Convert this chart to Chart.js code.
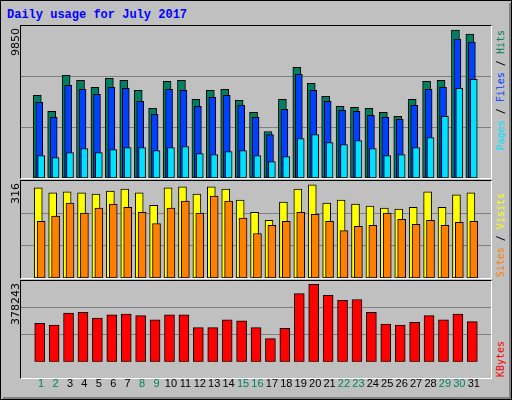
<!DOCTYPE html>
<html><head><meta charset="utf-8">
<script src="https://cdn.jsdelivr.net/npm/chart.js@4"></script>
<style>
body{margin:0;background:#fff}
#wrap{position:absolute;left:0;top:0;width:510px;height:398px;background:#C0C0C0;border:1px solid #000;overflow:hidden}
#wrap:after{content:"";position:absolute;right:0;bottom:0;left:2px;top:2px;border-right:2px solid #808080;border-bottom:2px solid #808080;pointer-events:none}
.box{position:absolute;border-top:1px solid #000;border-left:1px solid #000;border-right:1px solid #fff;border-bottom:1px solid #fff}
.cv{position:absolute}
.title{position:absolute;left:6px;top:7px;font:bold 12px "Liberation Mono",monospace;color:#0000FF}
.vt{position:absolute;writing-mode:vertical-rl;transform:rotate(180deg);font:10px "DejaVu Sans Mono",monospace;white-space:nowrap}
.yl{position:absolute;writing-mode:vertical-rl;transform:rotate(180deg);font:11px "DejaVu Sans",sans-serif;color:#000}
</style></head><body>
<div id="wrap">
<div class="title">Daily usage for July 2017</div>
<div class="box" style="left:19px;top:24px;width:470px;height:152px"></div>
<div class="box" style="left:19px;top:179px;width:470px;height:97px"></div>
<div class="box" style="left:19px;top:279px;width:470px;height:97px"></div>
<div class="cv" style="left:20px;top:25px;width:470px;height:152px"><canvas id="c1"></canvas></div>
<div class="cv" style="left:20px;top:180px;width:470px;height:97px"><canvas id="c2"></canvas></div>
<div class="cv" style="left:20px;top:280px;width:470px;height:118px"><canvas id="c3"></canvas></div>
<div class="yl" style="left:8px;top:27px">9850</div>
<div class="yl" style="left:8px;top:182px">316</div>
<div class="yl" style="left:8px;top:282px">378243</div>
<div class="vt" style="left:494px;top:29px"><span style="color:#00E0FF">Pages</span> / <span style="color:#0040FF">Files</span> / <span style="color:#008060">Hits</span></div>
<div class="vt" style="left:494px;bottom:122px"><span style="color:#FF8000">Sites</span> / <span style="color:#FFFF00">Visits</span></div>
<div class="vt" style="left:494px;bottom:22px;color:#FF0000">KBytes</div>
</div>
<script>
const days=[1,2,3,4,5,6,7,8,9,10,11,12,13,14,15,16,17,18,19,20,21,22,23,24,25,26,27,28,29,30,31];
const weekend=[1,2,8,9,15,16,22,23,29,30];
const hits=[5505,4436,6843,6509,6040,6642,6509,5840,4636,6442,6509,5238,5840,5907,5171,4369,3098,5238,7378,6308,5439,4770,4703,4636,4369,4101,5238,6442,6509,9850,9585];
const files=[5038,4034,6174,5907,5573,6040,5974,5104,4235,5907,5840,4770,5372,5506,4837,4034,2898,4569,6910,5840,5104,4503,4436,4168,4034,3901,4837,5907,6040,9250,9050];
const pages=[1493,1360,1694,1962,1694,1895,2028,2028,1828,2028,2095,1627,1560,1761,1828,1493,1092,1427,2630,2898,2363,2229,2497,1962,1493,1560,2028,2697,4101,5974,6576];
const visits=[306,289,292,289,285,295,302,289,247,306,309,285,309,302,264,223,196,258,302,316,254,264,251,244,237,234,240,292,240,282,289];
const sites=[192,210,254,220,237,251,240,223,185,237,261,220,278,261,203,151,179,192,223,216,192,161,175,179,220,199,182,196,179,189,192];
const kbytes=[187735,179450,237430,241570,212590,229150,233300,225020,204310,229150,229150,167030,167030,204310,200160,167030,113190,162890,332680,378243,324400,299550,303690,241570,183600,179450,191880,225020,204310,233300,196020];

function ds(vals,off,color,w,ord){
  return {data:vals.map((v,i)=>({x:days[i]+off,y:v})),backgroundColor:color,borderColor:'#000',borderWidth:1,borderSkipped:false,barThickness:w,grouped:false,order:ord};
}
function panel(id,sets,maxv,frac,showX){
  const ymax=maxv/frac;
  new Chart(document.getElementById(id),{type:'bar',data:{datasets:sets},
    options:{responsive:true,maintainAspectRatio:false,animation:false,
      layout:{padding:0},
      plugins:{legend:{display:false},tooltip:{enabled:false}},
      scales:{
        x:{type:'linear',min:0.128,max:31.67,display:showX,
          grid:{display:false},border:{display:false},
          afterBuildTicks:a=>{a.ticks=days.map(d=>({value:d}));},
          ticks:{autoSkip:false,maxRotation:0,padding:8,font:{family:'Liberation Sans',size:11},
            color:c=>weekend.includes(c.tick.value)?'#008060':'#000',
            callback:v=>String(v)}},
        y:{min:0,max:ymax,
          afterBuildTicks:a=>{a.ticks=[0,ymax/3,2*ymax/3,ymax].map(v=>({value:v}));},
          ticks:{display:false},grid:{color:'#808080',drawTicks:false,lineWidth:c=>(c.index===0||c.index===3)?0:1},border:{display:false}}
      }}});
}
panel('c1',[ds(hits,-0.27,'#008060',8,3),ds(files,-0.13,'#0040FF',7,2),ds(pages,0,'#00E0FF',7,1)],9850,0.973,false);
panel('c2',[ds(visits,-0.2,'#FFFF00',8,2),ds(sites,0,'#FF8000',8,1)],316,0.96,false);
panel('c3',[ds(kbytes,-0.1,'#FF0000',10,1)],378243,0.96,true);
</script>
</body></html>
